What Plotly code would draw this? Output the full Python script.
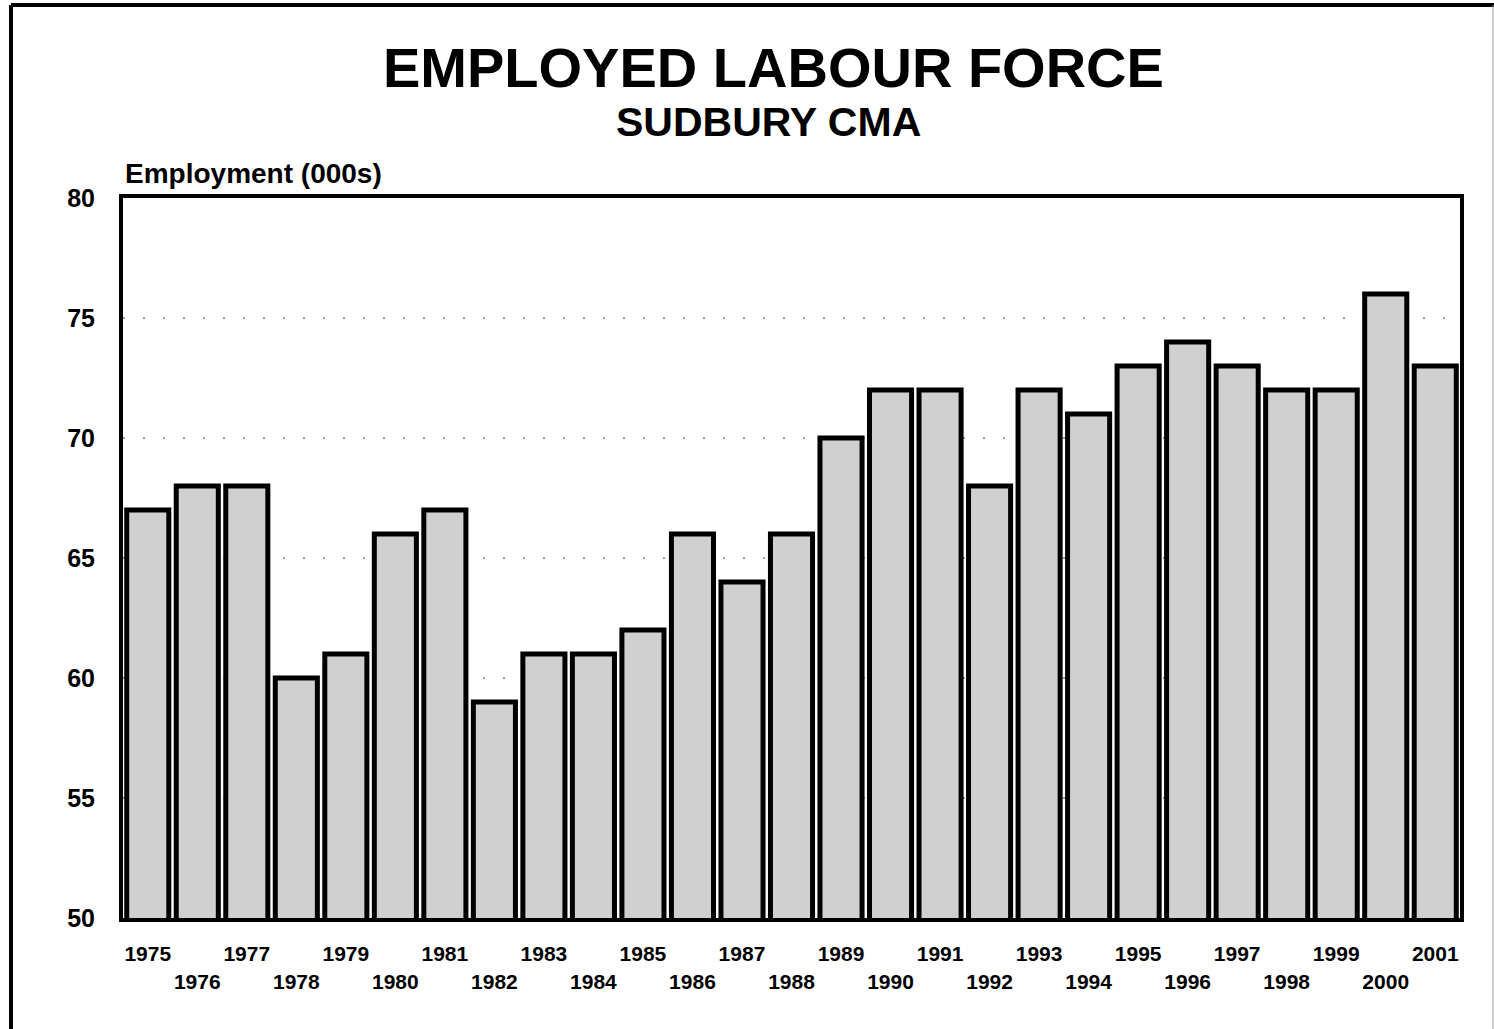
import plotly.graph_objects as go

years = list(range(1975, 2002))
employment = [67, 68, 68, 60, 61, 66, 67, 59, 61, 61, 62, 66, 64, 66, 70,
              72, 72, 68, 72, 71, 73, 74, 73, 72, 72, 76, 73]
tick_labels = [str(y) if i % 2 == 0 else "<br>" + str(y) for i, y in enumerate(years)]
y_ticks = [50, 55, 60, 65, 70, 75, 80]

W, H = 1494, 1029
L, R, T, B = 123, 34, 198, 111
PW, PH = W - L - R, H - T - B

def px(x):
    return (x - L) / PW

def py(y):
    return (H - B - y) / PH

FONT = "Liberation Sans, Arial, Helvetica, sans-serif"

fig = go.Figure()
fig.add_trace(go.Bar(
    x=years, y=employment,
    marker=dict(color="#d0d0d0", line=dict(color="black", width=5)),
))

fig.update_layout(
    width=W, height=H,
    margin=dict(l=L, r=R, t=T, b=B),
    paper_bgcolor="white", plot_bgcolor="white",
    bargap=0.15, showlegend=False,
    font=dict(family=FONT, color="black"),
)
fig.update_xaxes(
    range=[years[0] - 0.5, years[-1] + 0.5],
    tickmode="array", tickvals=years, ticktext=tick_labels,
    tickfont=dict(size=21, weight="bold", family=FONT, color="black"),
    showgrid=False, ticks="", showline=True, linecolor="black", linewidth=4,
    mirror=True, ticklabelstandoff=14, tickangle=0,
)
fig.update_yaxes(
    range=[50, 80], tickmode="array", tickvals=y_ticks,
    tickfont=dict(size=25, weight="bold", family=FONT, color="black"),
    showgrid=True, gridcolor="#a0a0a0", gridwidth=1.5, griddash="2px,18px",
    ticks="", showline=True, linecolor="black", linewidth=4, mirror=True,
    ticklabelstandoff=19, zeroline=False,
)

def ann(text, x, y, size, xanchor="center", yanchor="middle"):
    fig.add_annotation(text=text, x=px(x), y=py(y), xref="paper", yref="paper",
                       xanchor=xanchor, yanchor=yanchor, showarrow=False,
                       font=dict(size=size, family=FONT, color="black", weight="bold"))

ann("EMPLOYED LABOUR FORCE", 773, 68, 56)
ann("SUDBURY CMA", 768, 122, 41)
ann("Employment (000s)", 123, 174, 28, xanchor="left")

# outer frame
fig.add_shape(type="line", xref="paper", yref="paper", x0=px(11), x1=px(11), y0=py(5), y1=py(1040),
              line=dict(color="black", width=4))
fig.add_shape(type="line", xref="paper", yref="paper", x0=px(11), x1=px(1500), y0=py(5), y1=py(5),
              line=dict(color="black", width=4))
fig.add_shape(type="line", xref="paper", yref="paper", x0=px(1493), x1=px(1493), y0=py(5), y1=py(1040),
              line=dict(color="#999999", width=1))

fig.write_html("out.html")
